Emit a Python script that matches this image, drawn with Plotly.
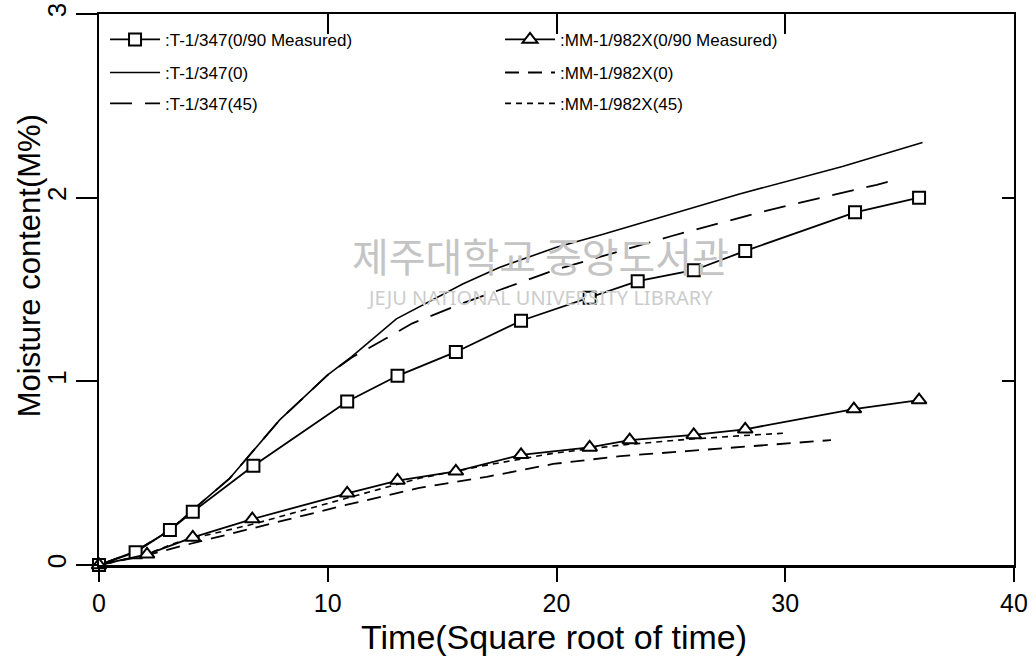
import plotly.graph_objects as go

# ---- data ----
t_meas_x = [0, 1.6, 3.1, 4.1, 6.75, 10.85, 13.05, 15.6, 18.45, 21.45, 23.55, 26.0, 28.25, 33.05, 35.85]
t_meas_y = [0, 0.07, 0.19, 0.29, 0.54, 0.89, 1.03, 1.16, 1.33, 1.455, 1.545, 1.605, 1.71, 1.92, 2.0]

mm_meas_x = [0, 2.1, 4.1, 6.7, 10.85, 13.05, 15.6, 18.45, 21.45, 23.2, 26.0, 28.25, 33.0, 35.85]
mm_meas_y = [0, 0.058, 0.15, 0.25, 0.39, 0.46, 0.51, 0.60, 0.64, 0.68, 0.708, 0.739, 0.849, 0.898]

t0_x = [0, 1.6, 3.1, 4.1, 5.7, 7.9, 10.0, 11.05, 13.0, 15.9, 17.5, 20.0, 22.0, 25.0, 28.0, 32.5, 36.0]
t0_y = [0, 0.075, 0.19, 0.30, 0.47, 0.79, 1.035, 1.135, 1.34, 1.53, 1.62, 1.73, 1.80, 1.91, 2.02, 2.17, 2.30]

t45_x = [0, 1.6, 3.1, 4.1, 5.7, 7.9, 10.0, 11.05, 11.7, 13.7, 15.9, 18.2, 19.9, 25.0, 29.2, 34.0, 34.9]
t45_y = [0, 0.075, 0.19, 0.30, 0.47, 0.79, 1.035, 1.13, 1.174, 1.316, 1.425, 1.53, 1.605, 1.79, 1.93, 2.07, 2.10]

mm0_x = [0, 2.0, 3.5, 6.75, 10.8, 14.0, 16.95, 19.85, 22.8, 25.7, 28.6, 31.5, 32.0]
mm0_y = [0, 0.05, 0.10, 0.20, 0.327, 0.42, 0.48, 0.55, 0.593, 0.62, 0.648, 0.677, 0.68]

mm45_x = [0, 2.0, 3.5, 6.75, 10.8, 14.0, 16.95, 19.85, 22.8, 25.7, 28.6, 29.9]
mm45_y = [0, 0.055, 0.127, 0.223, 0.363, 0.472, 0.544, 0.608, 0.653, 0.684, 0.708, 0.717]

x_ticks = [0, 10, 20, 30, 40]
y_ticks = [0, 1, 2, 3]

names = [":T-1/347(0/90 Measured)", ":MM-1/982X(0/90 Measured)",
         ":T-1/347(0)", ":MM-1/982X(0)",
         ":T-1/347(45)", ":MM-1/982X(45)"]

x_title = "Time(Square root of time)"
y_title = "Moisture content(M%)"

FONT = "Liberation Sans, Arial, sans-serif"

fig = go.Figure()

# model curves first (drawn beneath the measured series)
fig.add_trace(go.Scatter(x=t0_x, y=t0_y, name=names[2], mode="lines", legend="legend2",
                         legendrank=1, line=dict(color="black", width=1.6)))
fig.add_trace(go.Scatter(x=mm0_x, y=mm0_y, name=names[3], mode="lines", legend="legend2",
                         legendrank=2, line=dict(color="black", width=1.8, dash="14px,9px")))
fig.add_trace(go.Scatter(x=t45_x, y=t45_y, name=names[4], mode="lines", legend="legend3",
                         legendrank=1, line=dict(color="black", width=1.8, dash="22px,13px")))
fig.add_trace(go.Scatter(x=mm45_x, y=mm45_y, name=names[5], mode="lines", legend="legend3",
                         legendrank=2, line=dict(color="black", width=1.6, dash="6px,5px")))
fig.add_trace(go.Scatter(x=t_meas_x, y=t_meas_y, name=names[0], mode="lines+markers",
                         legend="legend", legendrank=1,
                         line=dict(color="black", width=1.8),
                         marker=dict(symbol="square", size=12, color="white",
                                     line=dict(color="black", width=2)),
                         cliponaxis=False))
fig.add_trace(go.Scatter(x=mm_meas_x, y=mm_meas_y, name=names[1], mode="lines+markers",
                         legend="legend", legendrank=2,
                         line=dict(color="black", width=1.8),
                         marker=dict(symbol="triangle-up", size=13, color="white",
                                     line=dict(color="black", width=2)),
                         cliponaxis=False))


def legend_row(ypaper):
    return dict(orientation="h", x=0.0066, y=ypaper, xanchor="left", yanchor="middle",
                entrywidth=330, entrywidthmode="pixels", itemwidth=50,
                traceorder="normal",
                font=dict(family=FONT, size=17, color="black"),
                bgcolor="rgba(0,0,0,0)")


fig.update_layout(
    width=1036, height=662,
    margin=dict(l=99, r=22, t=14, b=97),
    paper_bgcolor="white", plot_bgcolor="white",
    font=dict(family=FONT, color="black"),
    showlegend=True,
    legend=legend_row(0.953),
    legend2=legend_row(0.893),
    legend3=legend_row(0.837),
    xaxis=dict(range=[0, 40], tickvals=x_ticks, ticktext=[str(v) for v in x_ticks],
               ticks="outside", ticklen=14, tickwidth=1.5, tickcolor="black",
               showline=True, linecolor="black", linewidth=2.5,
               showgrid=False, zeroline=False, automargin=False,
               ticklabelstandoff=0, ticklabeloverflow="allow",
               tickfont=dict(family=FONT, size=25)),
    xaxis2=dict(range=[0, 40], tickvals=x_ticks, overlaying="x", side="top", anchor="y",
                ticks="inside", ticklen=20, tickwidth=1.5, tickcolor="black",
                showline=True, linecolor="black", linewidth=2, automargin=False,
                showticklabels=False, showgrid=False, zeroline=False),
    yaxis=dict(range=[0, 3], tickvals=y_ticks, ticktext=[str(v) for v in y_ticks],
               ticks="outside", ticklen=21, tickwidth=1.5, tickcolor="black",
               showline=True, linecolor="black", linewidth=2,
               showgrid=False, zeroline=False, tickangle=-90, automargin=False,
               ticklabelstandoff=0, ticklabeloverflow="allow",
               tickfont=dict(family=FONT, size=26)),
    yaxis2=dict(range=[0, 3], tickvals=y_ticks, overlaying="y", side="right", anchor="x",
                ticks="inside", ticklen=12, tickwidth=1.5, tickcolor="black",
                showline=True, linecolor="black", linewidth=2, automargin=False,
                showticklabels=False, showgrid=False, zeroline=False),
)

# invisible trace binding the mirror axes
fig.add_trace(go.Scatter(x=[0], y=[0], xaxis="x2", yaxis="y2", mode="markers",
                         marker=dict(opacity=0), showlegend=False, hoverinfo="skip"))

# axis titles
fig.add_annotation(text=x_title, x=0.497, y=-0.131, xref="paper", yref="paper",
                   xanchor="center", yanchor="middle", showarrow=False,
                   font=dict(family=FONT, size=34, color="black"))
fig.add_annotation(text=y_title, x=-0.076, y=0.543, xref="paper", yref="paper",
                   xanchor="center", yanchor="middle", showarrow=False, textangle=-90,
                   font=dict(family=FONT, size=31, color="black"))

# faint library watermark present on the scanned page
fig.add_annotation(text="제주대학교 중앙도서관", x=0.482, y=0.562, xref="paper", yref="paper",
                   xanchor="center", yanchor="middle", showarrow=False,
                   font=dict(family="Noto Sans CJK KR", size=40, color="#c4c4c4"))
fig.add_annotation(text="JEJU NATIONAL UNIVERSITY LIBRARY", x=0.482, y=0.486,
                   xref="paper", yref="paper", xanchor="center", yanchor="middle",
                   showarrow=False,
                   font=dict(family="Noto Sans", size=20, color="#cccccc"))

# remove the default 8px page margin so the figure fills the window exactly
fig.write_html("out.html",
               config={"displayModeBar": False},
               post_script="document.body.style.margin='0px';document.body.style.overflow='hidden';")
